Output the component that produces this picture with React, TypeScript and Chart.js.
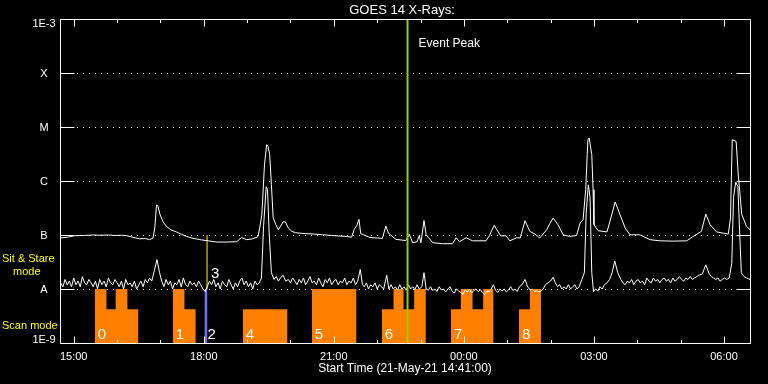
import { useEffect, useRef } from 'react';
import { Chart, registerables } from 'chart.js';

Chart.register(...registerables);

// ---------- axes ----------
const xStart = 14 + 41 / 60; // 14:41 on 21-May-21 (hours)
const xEnd = 30.6; // 06:36 on 22-May-21
const yMin = 1e-9;
const yMax = 1e-3;
const yTickValues = [1e-9, 1e-8, 1e-7, 1e-6, 1e-5, 1e-4, 1e-3];
const yTickLabels = ['1E-9', 'A', 'B', 'C', 'M', 'X', '1E-3'];
const yGridValues = [1e-8, 1e-7, 1e-6, 1e-5, 1e-4];
const xMajorTicks = [15, 18, 21, 24, 27, 30];
const xTickLabels = ['15:00', '18:00', '21:00', '00:00', '03:00', '06:00'];
const xMinorTicks = [16, 17, 19, 20, 22, 23, 25, 26, 28, 29];

// ---------- long channel (1-8 A) ----------
const longTimes = [
  14.69, 14.86, 15.02, 15.25, 15.45, 15.6, 15.8, 15.95, 16.1, 16.22, 16.36, 16.52, 16.65, 16.75, 16.83,
  16.87, 16.91, 16.94, 16.99, 17.06, 17.14, 17.24, 17.37, 17.45, 17.6, 17.75, 17.91, 18.1, 18.29, 18.51,
  18.76, 18.87, 18.99, 19.13, 19.25, 19.29, 19.34, 19.4, 19.45, 19.48, 19.52, 19.56, 19.6, 19.66, 19.72,
  19.83, 19.88, 19.95, 20.03, 20.12, 20.35, 20.55, 20.74, 20.95, 21.12, 21.3, 21.41, 21.47, 21.53, 21.58,
  21.62, 21.83, 22.0, 22.12, 22.2, 22.26, 22.43, 22.66, 22.74, 22.82, 22.92, 22.97, 23.01, 23.08, 23.13,
  23.28, 23.51, 23.74, 23.82, 23.9, 24.05, 24.2, 24.51, 24.59, 24.65, 24.7, 24.76, 24.85, 24.97, 25.06,
  25.22, 25.3, 25.41, 25.52, 25.64, 25.75, 25.91, 25.98, 26.06, 26.17, 26.29, 26.44, 26.6, 26.68, 26.75,
  26.81, 26.86, 26.89, 26.95, 26.98, 27.0, 27.1, 27.3, 27.37, 27.49, 27.6, 27.72, 27.83, 28.06, 28.29,
  28.52, 28.82, 29.14, 29.29, 29.48, 29.58, 29.68, 29.83, 30.1, 30.15, 30.19, 30.28, 30.33, 30.41, 30.52,
  30.6,
];
const longFlux = [
  8.8e-8, 9.1e-8, 9.7e-8, 9.8e-8, 1.0e-7, 9.9e-8, 1.0e-7, 9.8e-8, 9.9e-8, 9.7e-8, 9.1e-8, 8.5e-8, 8.6e-8, 8.2e-8, 8.8e-8,
  1.36e-7, 3.6e-7, 3.5e-7, 2.4e-7, 1.76e-7, 1.44e-7, 1.25e-7, 1.14e-7, 1.06e-7, 9.4e-8, 8.7e-8, 8.2e-8, 7.8e-8, 7.4e-8, 7.4e-8,
  7.5e-8, 9.0e-8, 8.2e-8, 8.5e-8, 9.3e-8, 1.35e-7, 2.4e-7, 2.0e-6, 4.7e-6, 4.4e-6, 3.1e-6, 8.5e-7, 2.1e-7, 1.57e-7, 1.25e-7,
  1.74e-7, 1.76e-7, 1.35e-7, 1.17e-7, 1.1e-7, 1.06e-7, 1.04e-7, 1.01e-7, 9.8e-8, 9.6e-8, 9.4e-8, 9.1e-8, 1.27e-7, 1.49e-7, 1.95e-7,
  1.06e-7, 9.0e-8, 8.8e-8, 8.65e-8, 1.47e-7, 1.08e-7, 8.3e-8, 7.9e-8, 1.03e-7, 7.2e-8, 7.5e-8, 9.7e-8, 7.2e-8, 1.86e-7, 1.01e-7,
  7.2e-8, 6.9e-8, 6.9e-8, 8.9e-8, 7.5e-8, 8.9e-8, 7.8e-8, 7.8e-8, 9.7e-8, 1.25e-7, 1.51e-7, 1.25e-7, 9.6e-8, 9.7e-8, 7.8e-8,
  8.9e-8, 8.8e-8, 1.84e-7, 1.17e-7, 1.04e-7, 8.8e-8, 1.25e-7, 1.62e-7, 2.06e-7, 1.55e-7, 1.01e-7, 9.4e-8, 9.8e-8, 1.67e-7, 1.92e-7,
  6.9e-7, 5.8e-6, 6.25e-6, 3.1e-6, 6.9e-7, 1.55e-7, 1.2e-7, 1.14e-7, 1.79e-7, 4.1e-7, 2.4e-7, 1.35e-7, 1.01e-7, 1.01e-7, 8.2e-8,
  7.8e-8, 7.7e-8, 7.8e-8, 9.4e-8, 1.17e-7, 2.45e-7, 1.55e-7, 1.14e-7, 1.04e-7, 2.06e-7, 5.8e-6, 5.4e-6, 1.31e-6, 2.4e-7, 1.44e-7,
  1.25e-7,
];

// ---------- short channel (0.5-4 A): [hour, flux] ----------
const shortSamples: [number, number][] = [
  [14.7, 1.3e-8], [14.75, 1.1e-8], [14.8, 1.5e-8], [14.85, 1.2e-8], [14.9, 1.4e-8], [14.95, 1.1e-8], [15.0, 1.6e-8],
  [15.05, 1.2e-8], [15.1, 1.4e-8], [15.15, 1.1e-8], [15.2, 1.7e-8], [15.25, 1.3e-8], [15.3, 1.2e-8], [15.35, 1.5e-8],
  [15.4, 1.3e-8], [15.45, 1.1e-8], [15.5, 1.4e-8], [15.55, 1.0e-8], [15.6, 1.5e-8], [15.65, 1.2e-8], [15.7, 1.4e-8],
  [15.75, 1.1e-8], [15.8, 1.6e-8], [15.85, 1.3e-8], [15.9, 1.2e-8], [15.95, 1.5e-8], [16.0, 1.3e-8], [16.05, 1.1e-8],
  [16.1, 1.4e-8], [16.15, 1.0e-8], [16.2, 1.5e-8], [16.25, 1.2e-8], [16.3, 1.3e-8], [16.35, 1.1e-8], [16.4, 1.4e-8],
  [16.45, 1.0e-8], [16.5, 1.2e-8], [16.55, 1.4e-8], [16.6, 1.1e-8], [16.65, 1.5e-8], [16.7, 1.3e-8], [16.75, 1.6e-8],
  [16.8, 1.4e-8], [16.86, 2.2e-8], [16.92, 3.5e-8], [16.98, 2.0e-8], [17.03, 1.4e-8], [17.08, 1.1e-8], [17.13, 1.5e-8],
  [17.18, 1.2e-8], [17.23, 1.4e-8], [17.28, 1.0e-8], [17.33, 1.3e-8], [17.38, 1.2e-8], [17.43, 1.5e-8], [17.48, 1.1e-8],
  [17.53, 1.6e-8], [17.58, 1.2e-8], [17.63, 1.1e-8], [17.68, 1.4e-8], [17.73, 1.2e-8], [17.78, 1.3e-8], [17.83, 1.1e-8],
  [17.88, 1.4e-8], [17.93, 1.2e-8], [17.98, 1.0e-8], [18.03, 9.0e-9], [18.08, 1.1e-8], [18.13, 1.4e-8], [18.18, 1.2e-8],
  [18.23, 1.5e-8], [18.28, 1.1e-8], [18.33, 1.3e-8], [18.38, 1.0e-8], [18.43, 1.4e-8], [18.48, 1.2e-8], [18.53, 1.1e-8],
  [18.58, 1.5e-8], [18.63, 1.2e-8], [18.68, 1.0e-8], [18.73, 1.3e-8], [18.78, 1.1e-8], [18.83, 1.4e-8], [18.88, 1.6e-8],
  [18.93, 1.2e-8], [18.98, 1.4e-8], [19.03, 1.1e-8], [19.08, 1.3e-8], [19.13, 1.0e-8], [19.18, 1.4e-8], [19.23, 1.2e-8],
  [19.28, 1.3e-8], [19.33, 1.6e-8], [19.38, 1.5e-7], [19.44, 7.8e-7], [19.47, 7.0e-7], [19.51, 1.0e-7], [19.56, 2.0e-8],
  [19.62, 1.5e-8], [19.67, 1.7e-8], [19.72, 1.4e-8], [19.77, 1.6e-8], [19.83, 1.8e-8], [19.89, 1.4e-8], [19.95, 1.5e-8],
  [20.0, 1.3e-8], [20.05, 1.6e-8], [20.1, 1.4e-8], [20.15, 1.2e-8], [20.2, 1.5e-8], [20.25, 1.3e-8], [20.3, 1.6e-8],
  [20.35, 1.2e-8], [20.4, 1.4e-8], [20.45, 1.7e-8], [20.5, 1.3e-8], [20.55, 1.4e-8], [20.6, 1.2e-8], [20.65, 1.6e-8],
  [20.7, 1.3e-8], [20.75, 1.1e-8], [20.8, 1.5e-8], [20.85, 1.3e-8], [20.9, 1.6e-8], [20.95, 1.2e-8], [21.0, 1.4e-8],
  [21.05, 1.5e-8], [21.1, 1.2e-8], [21.15, 1.4e-8], [21.2, 1.3e-8], [21.25, 1.6e-8], [21.3, 1.2e-8], [21.35, 1.4e-8],
  [21.4, 1.3e-8], [21.45, 1.6e-8], [21.5, 1.2e-8], [21.55, 1.4e-8], [21.61, 2.3e-8], [21.66, 1.2e-8], [21.7, 1.1e-8],
  [21.75, 1.3e-8], [21.8, 1.0e-8], [21.85, 1.2e-8], [21.9, 1.1e-8], [21.95, 1.3e-8], [22.0, 1.0e-8], [22.05, 1.2e-8],
  [22.1, 1.1e-8], [22.15, 1.0e-8], [22.22, 1.8e-8], [22.27, 1.0e-8], [22.32, 1.2e-8], [22.37, 1.0e-8], [22.42, 1.1e-8],
  [22.47, 9.6e-9], [22.52, 1.2e-8], [22.57, 1.0e-8], [22.62, 1.1e-8], [22.67, 9.5e-9], [22.72, 1.2e-8], [22.77, 1.0e-8],
  [22.82, 1.1e-8], [22.87, 9.8e-9], [22.92, 1.2e-8], [22.97, 1.0e-8], [23.03, 1.1e-8], [23.08, 2.0e-8], [23.13, 1.0e-8],
  [23.18, 9.5e-9], [23.23, 1.1e-8], [23.28, 9.4e-9], [23.33, 1.0e-8], [23.38, 9.0e-9], [23.43, 1.1e-8], [23.48, 9.6e-9],
  [23.53, 1.0e-8], [23.58, 8.8e-9], [23.63, 1.0e-8], [23.68, 1.1e-8], [23.73, 9.0e-9], [23.78, 8.4e-9], [23.83, 1.0e-8],
  [23.88, 9.2e-9], [23.93, 8.6e-9], [23.98, 8.0e-9], [24.03, 9.6e-9], [24.08, 8.8e-9], [24.13, 1.0e-8], [24.18, 8.4e-9],
  [24.23, 9.4e-9], [24.28, 1.0e-8], [24.33, 8.9e-9], [24.38, 9.7e-9], [24.43, 8.5e-9], [24.48, 7.9e-9], [24.53, 9.2e-9],
  [24.58, 8.8e-9], [24.63, 1.0e-8], [24.68, 1.2e-8], [24.73, 9.5e-9], [24.78, 8.6e-9], [24.83, 1.0e-8], [24.88, 9.2e-9],
  [24.93, 1.0e-8], [24.98, 8.8e-9], [25.03, 9.6e-9], [25.08, 1.1e-8], [25.13, 9.4e-9], [25.18, 1.0e-8], [25.23, 9.0e-9],
  [25.28, 1.1e-8], [25.34, 1.2e-8], [25.41, 1.5e-8], [25.47, 1.1e-8], [25.53, 9.6e-9], [25.58, 1.0e-8], [25.63, 9.0e-9],
  [25.68, 9.4e-9], [25.73, 8.8e-9], [25.78, 9.2e-9], [25.83, 1.0e-8], [25.88, 1.2e-8], [25.94, 1.3e-8], [26.0, 1.4e-8],
  [26.06, 1.65e-8], [26.11, 1.3e-8], [26.16, 1.1e-8], [26.21, 1.2e-8], [26.26, 1.0e-8], [26.31, 1.1e-8], [26.36, 1.0e-8],
  [26.41, 1.2e-8], [26.46, 1.0e-8], [26.51, 1.1e-8], [26.56, 1.2e-8], [26.61, 1.0e-8], [26.66, 1.1e-8], [26.72, 1.5e-8],
  [26.78, 2.0e-8], [26.82, 2.5e-7], [26.87, 8.5e-7], [26.91, 5.0e-7], [26.95, 2.0e-8], [26.99, 8.9e-9], [27.04, 1.0e-8],
  [27.09, 9.2e-9], [27.14, 1.1e-8], [27.19, 1.0e-8], [27.24, 1.2e-8], [27.3, 1.3e-8], [27.36, 1.5e-8], [27.42, 2.0e-8],
  [27.48, 3.3e-8], [27.55, 2.0e-8], [27.62, 1.5e-8], [27.67, 1.3e-8], [27.72, 1.2e-8], [27.77, 1.4e-8], [27.82, 1.3e-8],
  [27.87, 1.5e-8], [27.92, 1.2e-8], [27.97, 1.4e-8], [28.02, 1.5e-8], [28.07, 1.3e-8], [28.12, 1.4e-8], [28.17, 1.2e-8],
  [28.22, 1.6e-8], [28.27, 1.4e-8], [28.32, 1.3e-8], [28.37, 1.6e-8], [28.42, 1.4e-8], [28.47, 1.5e-8], [28.52, 1.3e-8],
  [28.57, 1.5e-8], [28.62, 1.6e-8], [28.67, 1.4e-8], [28.72, 1.5e-8], [28.77, 1.3e-8], [28.82, 1.6e-8], [28.87, 1.4e-8],
  [28.92, 1.5e-8], [28.97, 1.7e-8], [29.02, 1.5e-8], [29.07, 1.4e-8], [29.12, 1.6e-8], [29.17, 1.5e-8], [29.22, 1.7e-8],
  [29.27, 1.5e-8], [29.32, 1.6e-8], [29.37, 1.7e-8], [29.42, 1.8e-8], [29.5, 1.9e-8], [29.58, 2.8e-8], [29.66, 1.9e-8],
  [29.71, 1.7e-8], [29.76, 1.6e-8], [29.81, 1.5e-8], [29.86, 1.6e-8], [29.91, 1.4e-8], [29.96, 1.5e-8], [30.01, 1.6e-8],
  [30.06, 1.5e-8], [30.12, 1.6e-8], [30.18, 3.0e-8], [30.22, 5.0e-7], [30.27, 9.5e-7], [30.32, 8.0e-7], [30.36, 1.2e-7],
  [30.4, 2.0e-8], [30.46, 1.7e-8], [30.52, 1.6e-8], [30.6, 1.5e-8],
];

// ---------- observing modes ----------
const stareLevel = 1e-8; // bar top (Sit & Stare)
const scanLevel = 4.2e-9; // lower step (Scan)
const scanGroupLabels = ['0', '1', '2', '4', '5', '6', '7', '8'];
const scanGroupTimes = [
  [15.484, 15.754, 15.968, 16.238, 16.492],
  [17.284, 17.554, 17.815],
  [18.015, 18.085],
  [18.899, 19.931],
  [20.492, 21.523],
  [22.107, 22.377, 22.608, 22.853, 23.123],
  [23.7, 23.93, 24.2, 24.445, 24.685],
  [25.269, 25.523, 25.777],
];
const scanGroupLevels = [
  [stareLevel, scanLevel, stareLevel, scanLevel, scanLevel],
  [stareLevel, scanLevel, scanLevel],
  [stareLevel, stareLevel],
  [scanLevel, scanLevel],
  [stareLevel, stareLevel],
  [scanLevel, stareLevel, scanLevel, stareLevel, stareLevel],
  [scanLevel, stareLevel, scanLevel, stareLevel, stareLevel],
  [scanLevel, stareLevel, stareLevel],
];
const scanGroupColors = ['#ff8000', '#ff8000', '#7070ff', '#ff8000', '#ff8000', '#ff8000', '#ff8000', '#ff8000'];
const stareLineTime = 18.075;
const stareLineLabel = '3';
const stareLineRange = [1e-8, 1e-7];
const eventPeakTime = 22.7;

const FONT = '"Liberation Sans", Arial, sans-serif';

const overlay = {
  id: 'goesOverlay',
  beforeDatasetsDraw(chart: any) {
    const { ctx, chartArea: a, scales } = chart;
    const y = scales.y;
    ctx.save();
    ctx.strokeStyle = '#ffffff';
    ctx.lineWidth = 1;
    ctx.setLineDash([1, 5]);
    for (const v of yGridValues) {
      const py = Math.round(y.getPixelForValue(v)) + 0.5;
      ctx.beginPath();
      ctx.moveTo(a.left + 17, py);
      ctx.lineTo(a.right - 15, py);
      ctx.stroke();
    }
    ctx.restore();
  },
  afterDraw(chart: any) {
    const { ctx, chartArea: a, scales } = chart;
    const x = scales.x;
    const y = scales.y;
    const L = Math.round(a.left) + 0.5;
    const R = Math.round(a.right) + 0.5;
    const T = Math.round(a.top) + 0.5;
    const B = Math.round(a.bottom) + 0.5;
    ctx.save();
    ctx.strokeStyle = '#ffffff';
    ctx.lineWidth = 1;
    ctx.beginPath();
    ctx.rect(L, T, R - L, B - T);
    for (const v of yTickValues) {
      const py = Math.round(y.getPixelForValue(v)) + 0.5;
      ctx.moveTo(L, py);
      ctx.lineTo(L + 14, py);
      ctx.moveTo(R - 14, py);
      ctx.lineTo(R, py);
    }
    for (const t of xMajorTicks) {
      const px = Math.round(x.getPixelForValue(t)) + 0.5;
      ctx.moveTo(px, B);
      ctx.lineTo(px, B - 7);
      ctx.moveTo(px, T);
      ctx.lineTo(px, T + 7);
    }
    for (const t of xMinorTicks) {
      const px = Math.round(x.getPixelForValue(t)) + 0.5;
      ctx.moveTo(px, B);
      ctx.lineTo(px, B - 3.5);
      ctx.moveTo(px, T);
      ctx.lineTo(px, T + 3.5);
    }
    ctx.stroke();

    ctx.fillStyle = '#ffffff';
    ctx.textBaseline = 'alphabetic';
    ctx.font = `11px ${FONT}`;
    ctx.textAlign = 'center';
    yTickValues.forEach((v, i) => {
      const py = y.getPixelForValue(v);
      let base = py + 4;
      if (i === yTickValues.length - 1) base = py + 8;
      if (i === 0) base = py;
      ctx.fillText(yTickLabels[i], 44, base);
    });
    xMajorTicks.forEach((t, i) => {
      ctx.fillText(xTickLabels[i], x.getPixelForValue(t), 360);
    });
    ctx.font = `12px ${FONT}`;
    ctx.fillText('Start Time (21-May-21 14:41:00)', (a.left + a.right) / 2, 372);
    ctx.font = `13px ${FONT}`;
    ctx.fillText('GOES 14 X-Rays:', 402, 14);

    ctx.textAlign = 'left';
    ctx.font = `12px ${FONT}`;
    ctx.fillText('Event Peak', x.getPixelForValue(eventPeakTime) + 11, 47);

    ctx.font = `15px ${FONT}`;
    scanGroupLabels.forEach((lab, i) => {
      ctx.fillText(lab, x.getPixelForValue(scanGroupTimes[i][0]) + 3, 339);
    });
    ctx.fillText(stareLineLabel, x.getPixelForValue(stareLineTime) + 4, 278);

    ctx.fillStyle = '#ffff00';
    ctx.font = `11px ${FONT}`;
    ctx.fillText('Sit & Stare', 2, 262);
    ctx.fillText('mode', 13, 275);
    ctx.fillText('Scan mode', 2, 329);
    ctx.restore();
  },
};

function pts(ts: number[], vs: number[]) {
  return ts.map((t, i) => ({ x: t, y: vs[i] }));
}

export default function App() {
  const ref = useRef<HTMLCanvasElement>(null);
  useEffect(() => {
    if (!ref.current) return;
    const scanSets = scanGroupTimes.map((ts, i) => ({
      data: pts(ts, scanGroupLevels[i]),
      stepped: true,
      fill: 'start',
      backgroundColor: scanGroupColors[i],
      borderColor: 'rgba(0,0,0,0)',
      borderWidth: 0,
      pointRadius: 0,
      order: 3,
    }));
    const chart = new Chart(ref.current, {
      type: 'line',
      data: {
        datasets: [
          {
            data: [
              { x: eventPeakTime, y: yMin },
              { x: eventPeakTime, y: yMax },
            ],
            borderColor: '#99cc00',
            borderWidth: 2,
            pointRadius: 0,
            order: 0,
          },
          {
            data: pts(longTimes, longFlux),
            borderColor: '#ffffff',
            borderWidth: 1,
            pointRadius: 0,
            tension: 0,
            order: 1,
          },
          {
            data: shortSamples.map(([t, v]) => ({ x: t, y: v })),
            borderColor: '#ffffff',
            borderWidth: 1,
            pointRadius: 0,
            tension: 0,
            order: 1,
          },
          {
            data: [
              { x: stareLineTime, y: stareLineRange[0] },
              { x: stareLineTime, y: stareLineRange[1] },
            ],
            borderColor: '#ffff00',
            borderWidth: 1,
            pointRadius: 0,
            order: 2,
          },
          ...scanSets,
        ] as any,
      },
      options: {
        responsive: false,
        animation: false,
        devicePixelRatio: 1,
        events: [],
        layout: { padding: { left: 60, top: 19, right: 18, bottom: 41 } },
        plugins: { legend: { display: false }, tooltip: { enabled: false } },
        scales: {
          x: { type: 'linear', min: xStart, max: xEnd, display: false },
          y: { type: 'logarithmic', min: yMin, max: yMax, display: false },
        },
      } as any,
      plugins: [overlay],
    });
    return () => chart.destroy();
  }, []);
  return (
    <div style={{ position: 'fixed', left: 0, top: 0, width: 768, height: 384, background: '#000' }}>
      <canvas ref={ref} width={768} height={384} style={{ display: 'block' }} />
    </div>
  );
}
